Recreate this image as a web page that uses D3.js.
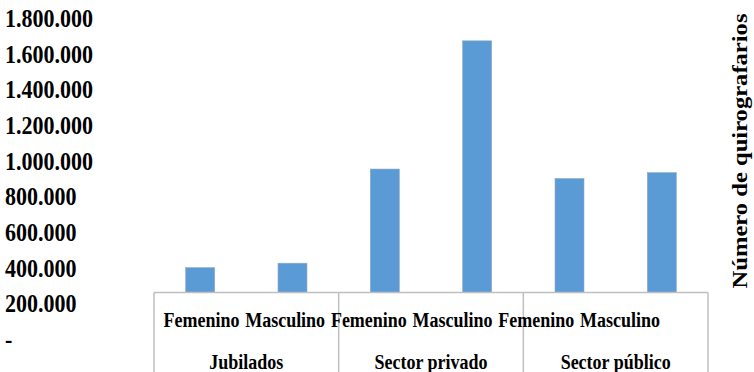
<!DOCTYPE html>
<html>
<head>
<meta charset="utf-8">
<script src="https://cdn.jsdelivr.net/npm/d3@7/dist/d3.min.js"></script>
<style>
  html, body { margin: 0; padding: 0; background: #fff; }
  svg { display: block; }
  text { font-family: "Liberation Serif", "Times New Roman", serif; font-weight: bold; fill: #000; }
</style>
</head>
<body>
<svg id="chart" width="754" height="372"></svg>
<script>
// Chart data
const categories = ["Femenino", "Masculino", "Femenino", "Masculino", "Femenino", "Masculino"];
const groups = ["Jubilados", "Sector privado", "Sector público"];
const values = [400000, 425000, 953000, 1672000, 900000, 933000];
const yTicks = [0, 200000, 400000, 600000, 800000, 1000000, 1200000, 1400000, 1600000, 1800000];
const axisTitle = "Número de quirografarios";

const W = 754, H = 372;
const plotLeft = 154, plotRight = 708;
const baseY = 292.5;          // top of the category box, where bars sit
const stretch = 1.15;         // vertical stretch of the lettering

const svg = d3.select("#chart");

const locale = d3.formatLocale({ decimal: ",", thousands: ".", grouping: [3], currency: ["", ""] });
const fmt = locale.format(",");

const y = d3.scaleLinear().domain([0, 1800000]).range([339, 18]);
const x = d3.scaleBand()
  .domain(d3.range(categories.length))
  .range([plotLeft, plotRight])
  .paddingInner(0.686)
  .paddingOuter(0.343);
// category captions run on a tighter pitch than the bars
const xLabel = d3.scaleBand()
  .domain(d3.range(categories.length))
  .range([159.6, 661.8]);

// Bars, clipped at the top of the category box
svg.append("clipPath").attr("id", "plotClip")
  .append("rect").attr("x", 0).attr("y", 0).attr("width", W).attr("height", baseY);

svg.append("g").attr("clip-path", "url(#plotClip)")
  .selectAll("rect").data(values).join("rect")
  .attr("x", (d, i) => x(i))
  .attr("width", x.bandwidth())
  .attr("y", d => y(d))
  .attr("height", d => y(0) - y(d))
  .attr("fill", "#5b9bd5")
  .attr("stroke", "#8fa9c4")
  .attr("stroke-width", 0.6);

// Value axis labels (left aligned)
const yAxis = d3.axisLeft(y)
  .tickValues(yTicks)
  .tickFormat(d => d === 0 ? "-" : fmt(d))
  .tickSize(0);

const ya = svg.append("g").call(yAxis);
ya.select(".domain").remove();
ya.selectAll("text")
  .attr("x", 5)
  .attr("y", 0)
  .attr("dy", "0.34em")
  .attr("text-anchor", "start")
  .attr("transform", `scale(1,${stretch})`)
  .style("font-family", "'Liberation Serif', 'Times New Roman', serif")
  .style("font-weight", "bold")
  .style("font-size", "22px")
  .attr("fill", "#000");

// Category box
const box = svg.append("g").attr("stroke", "#bfbfbf").attr("stroke-width", 1.5).attr("fill", "none");
box.append("line").attr("x1", plotLeft).attr("x2", plotRight).attr("y1", baseY).attr("y2", baseY);
// group dividers sit midway between adjacent categories
const dividers = [plotLeft,
  (x(1) + x(2) + x.bandwidth()) / 2,
  (x(3) + x(4) + x.bandwidth()) / 2,
  plotRight];
box.selectAll("line.div").data(dividers).join("line")
  .attr("class", "div")
  .attr("x1", d => d).attr("x2", d => d)
  .attr("y1", baseY).attr("y2", H);

// Category labels
svg.append("g").selectAll("text").data(categories).join("text")
  .attr("transform", (d, i) => `translate(${xLabel(i) + xLabel.bandwidth() / 2},327) scale(1,${stretch})`)
  .attr("text-anchor", "middle")
  .style("font-size", "18px")
  .text(d => d);

// Group labels
svg.append("g").selectAll("text").data(groups).join("text")
  .attr("transform", (d, i) => `translate(${(dividers[i] + dividers[i + 1]) / 2},368.5) scale(1,${stretch})`)
  .attr("text-anchor", "middle")
  .style("font-size", "18px")
  .text(d => d);

// Axis title on the right
svg.append("text")
  .attr("transform", `translate(747,151) rotate(-90) scale(1.2,1)`)
  .attr("text-anchor", "middle")
  .style("font-size", "20.5px")
  .text(axisTitle);
</script>
</body>
</html>
